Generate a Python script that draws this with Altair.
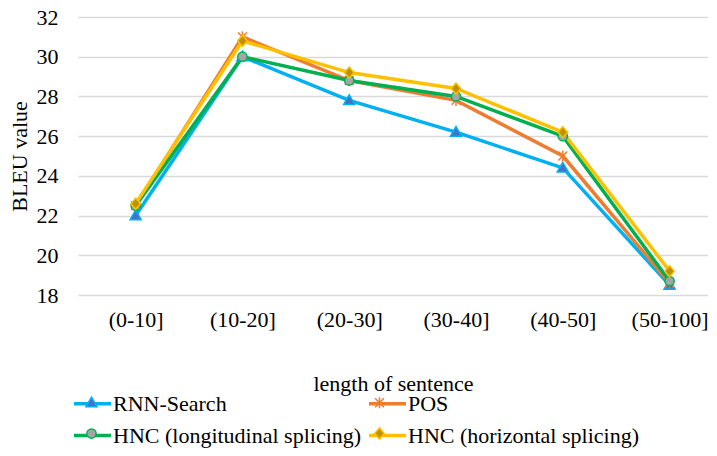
import altair as alt
import pandas as pd

categories = ["(0-10]", "(10-20]", "(20-30]", "(30-40]", "(40-50]", "(50-100]"]
series_names = ["RNN-Search", "POS", "HNC (longitudinal splicing)", "HNC (horizontal splicing)"]
rnn_search = [22.0, 30.0, 27.8, 26.2, 24.4, 18.5]
pos = [22.5, 31.0, 28.8, 27.8, 25.0, 18.6]
hnc_longitudinal = [22.5, 30.0, 28.8, 28.0, 26.0, 18.7]
hnc_horizontal = [22.6, 30.8, 29.2, 28.4, 26.2, 19.2]
y_ticks = [18, 20, 22, 24, 26, 28, 30, 32]

line_colors = ["#00B0F0", "#ED7D31", "#00B050", "#FFC000"]
marker_fills = ["#4472C4", "#ED7D31", "#A5A5A5", "#BF9000"]
marker_paths = [
    "M0,-0.3L0.3,0.22L-0.3,0.22Z",
    "M-0.24,-0.24L0.24,0.24M-0.24,0.24L0.24,-0.24M0,-0.3L0,0.3",
    "M0.25,0A0.25,0.25,0,1,1,-0.25,0A0.25,0.25,0,1,1,0.25,0Z",
    "M0,-0.3L0.26,0L0,0.3L-0.26,0Z",
]

rows = []
for name, vals in zip(series_names, [rnn_search, pos, hnc_longitudinal, hnc_horizontal]):
    for c, v in zip(categories, vals):
        rows.append({"length": c, "bleu": v, "series": name})
df = pd.DataFrame(rows)

FONT = "Liberation Serif"
SYM = 1369

x_enc = alt.X(
    "length:N",
    sort=categories,
    scale=alt.Scale(type="point", padding=0.45, align=0.6),
    axis=alt.Axis(
        title="length of sentence",
        titleFont=FONT, titleFontSize=22, titleFontWeight="normal", titleColor="#000000",
        titleY=88, titleBaseline="middle",
        labelFont=FONT, labelFontSize=22, labelColor="#000000", labelAngle=0,
        labelPadding=14, domain=False, ticks=False, grid=False,
    ),
)
y_enc = alt.Y(
    "bleu:Q",
    scale=alt.Scale(domain=[18, 32], zero=False, nice=False),
    axis=alt.Axis(
        title="BLEU value", values=y_ticks,
        titleFont=FONT, titleFontSize=22, titleFontWeight="normal", titleColor="#000000",
        titleX=-59, titleBaseline="middle",
        labelFont=FONT, labelFontSize=22, labelColor="#000000",
        labelPadding=20, domain=False, ticks=False,
        grid=True, gridColor="#D9D9D9", gridWidth=1.5,
    ),
)

legend_common = dict(
    orient="none", legendX=-6, legendY=366, columns=2, direction="horizontal", title=None,
    labelFont=FONT, labelFontSize=22, labelColor="#000000", labelOffset=0,
    columnPadding=0, rowPadding=0, padding=0, symbolSize=SYM, labelLimit=400,
)

lines = alt.Chart(df).mark_line(strokeWidth=3.5).encode(
    x=x_enc,
    y=y_enc,
    stroke=alt.Stroke(
        "series:N",
        scale=alt.Scale(domain=series_names, range=line_colors),
        legend=alt.Legend(symbolType="M-1,0L1,0", symbolStrokeWidth=3.5, **legend_common),
    ),
)

marker_legend = alt.Legend(symbolStrokeWidth=1.5, labelOpacity=0, **legend_common)
points = alt.Chart(df).mark_point(filled=True, strokeWidth=1.5, opacity=1).encode(
    x=x_enc,
    y=y_enc,
    shape=alt.Shape("series:N", scale=alt.Scale(domain=series_names, range=marker_paths), legend=marker_legend),
    fill=alt.Fill("series:N", scale=alt.Scale(domain=series_names, range=marker_fills), legend=marker_legend),
    stroke=alt.Stroke("series:N", scale=alt.Scale(domain=series_names, range=line_colors), legend=marker_legend),
    size=alt.value(SYM),
)

chart = (
    alt.layer(lines, points)
    .resolve_scale(stroke="independent", shape="independent", fill="independent")
    .properties(
        width=630, height=278,
        autosize=alt.AutoSizeParams(type="none"),
        padding={"left": 70, "top": 9, "right": 0, "bottom": 153},
        background="#FFFFFF",
    )
    .configure_view(stroke=None)
)

chart.save("out.html", embed_options={"renderer": "svg", "actions": False})
